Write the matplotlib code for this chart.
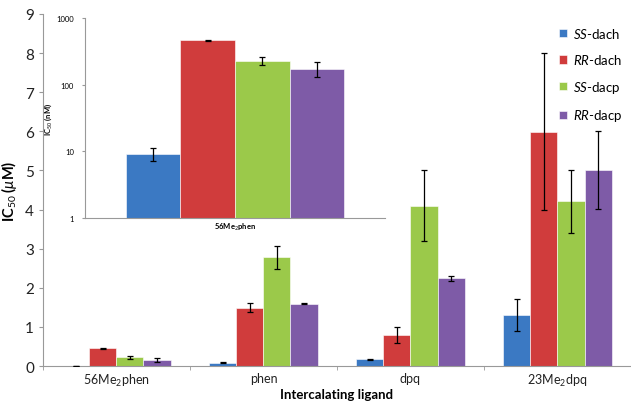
import numpy as np
import matplotlib
matplotlib.use("Agg")
from matplotlib import pyplot as plt

plt.rcParams['font.family'] = ['Lato', 'DejaVu Sans']
plt.rcParams['mathtext.fontset'] = 'custom'
plt.rcParams['mathtext.rm'] = 'Lato'
plt.rcParams['mathtext.it'] = 'Lato:italic'
plt.rcParams['mathtext.bf'] = 'Lato:bold'

ligands = ["56Me$_2$phen", "phen", "dpq", "23Me$_2$dpq"]
series = ["$\\mathit{SS}$-dach", "$\\mathit{RR}$-dach", "$\\mathit{SS}$-dacp", "$\\mathit{RR}$-dacp"]
colors = ["#3b79c3", "#d03c3c", "#9bc94a", "#7e5ba7"]

# IC50 in uM, one list per complex, ordered as ligands
ss_dach = [0.009, 0.09, 0.17, 1.30]
rr_dach = [0.45, 1.49, 0.79, 5.99]
ss_dacp = [0.22, 2.78, 4.10, 4.21]
rr_dacp = [0.15, 1.59, 2.24, 5.01]
ss_dach_err = [0.002, 0.01, 0.02, 0.41]
rr_dach_err = [0.01, 0.11, 0.21, 2.01]
ss_dacp_err = [0.04, 0.30, 0.91, 0.81]
rr_dacp_err = [0.05, 0.01, 0.07, 1.00]

# 56Me2phen complexes on a log scale, nM
inset_vals = [9.1, 462, 229, 174]
inset_err = [2.0, 5, 33, 45]

values = [ss_dach, rr_dach, ss_dacp, rr_dacp]
errors = [ss_dach_err, rr_dach_err, ss_dacp_err, rr_dacp_err]

fig = plt.figure(figsize=(6.31, 4.02), dpi=100)
ax = fig.add_axes([0.068, 0.087, 0.932, 0.876])

x = np.arange(len(ligands))
width = 0.184
offsets = (np.arange(4) - 1.5) * width
for i in range(4):
    ax.bar(x + offsets[i], values[i], width, color=colors[i], edgecolor="white",
           linewidth=0.4, label=series[i], zorder=2)
    ax.errorbar(x + offsets[i], values[i], yerr=errors[i], fmt="none",
                ecolor="black", elinewidth=0.9, capsize=2, capthick=0.9, zorder=3)

ax.set_xlim(-0.5, 3.5)
ax.set_ylim(0, 9)
ax.set_yticks(range(10))
ax.set_xticks(x)
ax.set_xticklabels(ligands, fontsize=9, color="#222222")
ax.set_xticks(np.arange(-0.5, 4, 1), minor=True)
ax.tick_params(axis="x", which="major", length=0, pad=4)
ax.tick_params(axis="x", which="minor", length=3, color="#999999")
ax.tick_params(axis="y", length=3, color="#999999", labelsize=11, labelcolor="#222222")
for s in ["top", "right"]:
    ax.spines[s].set_visible(False)
for s in ["left", "bottom"]:
    ax.spines[s].set_color("#999999")
ax.set_ylabel("IC$_{50}$ ($\\mu$M)", fontsize=10.5, fontweight="bold", labelpad=4)
ax.set_xlabel("Intercalating ligand", fontsize=9.5, fontweight="bold")
ax.xaxis.set_label_coords(0.5, -0.079)
ax.xaxis.label.set_verticalalignment("center")

leg = ax.legend(loc="upper right", bbox_to_anchor=(1.005, 1.0), frameon=False,
                fontsize=9.5, handlelength=0.6, handleheight=0.6,
                handletextpad=0.4, labelspacing=0.95)

# inset for 56Me2phen
ins = fig.add_axes([0.135, 0.4545, 0.475, 0.4985])
ins_off = (np.arange(4) - 1.5) * 0.182
for i in range(4):
    ins.bar(ins_off[i], inset_vals[i], 0.182, color=colors[i], edgecolor="white",
            linewidth=0.4, zorder=2)
ins.errorbar(ins_off, inset_vals, yerr=inset_err, fmt="none", ecolor="black",
             elinewidth=0.9, capsize=2, capthick=0.9, zorder=3)
ins.set_yscale("log")
ins.set_ylim(1, 1000)
ins.set_xlim(-0.5, 0.5)
ins.set_yticks([1, 10, 100, 1000])
ins.set_yticklabels(["1", "10", "100", "1000"])
ins.minorticks_off()
ins.set_xticks([])
ins.tick_params(axis="y", length=2, color="#999999", labelsize=5.5, pad=6)
for s in ["top", "right"]:
    ins.spines[s].set_visible(False)
for s in ["left", "bottom"]:
    ins.spines[s].set_color("#999999")
ins.set_ylabel("IC$_{50}$ (nM)", fontsize=5.5, fontweight="bold", labelpad=2)
ins.set_xlabel("56Me$_2$phen", fontsize=5.5, fontweight="bold", labelpad=2)

fig.savefig("out.png", dpi=100)
